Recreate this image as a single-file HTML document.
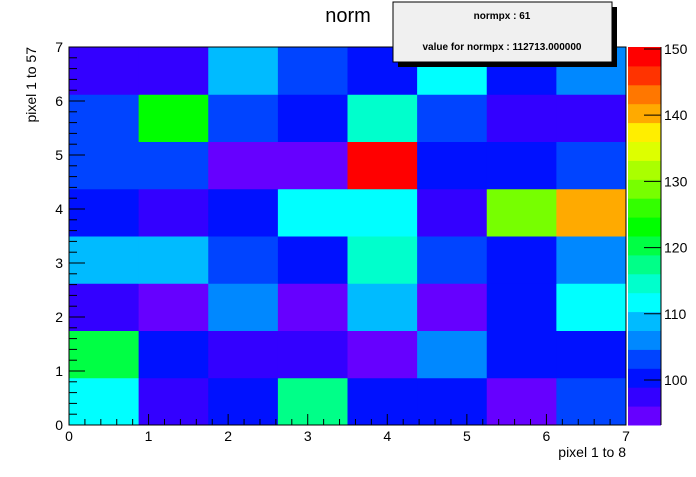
<!DOCTYPE html>
<html><head><meta charset="utf-8"><style>
body{margin:0;background:#fff;width:696px;height:472px;overflow:hidden;font-family:"Liberation Sans",Arial,sans-serif}
</style></head><body>
<svg id="c" width="696" height="472" xmlns="http://www.w3.org/2000/svg" font-family="Liberation Sans, Arial, sans-serif">
<text x="348" y="22" text-anchor="middle" font-size="20">norm</text>
<g id="cells"></g>
<g id="pal"></g>
<g id="axes"></g>
<text x="626" y="457" text-anchor="end" font-size="14">pixel 1 to 8</text>
<text transform="translate(36,47) rotate(-90)" text-anchor="end" font-size="14">pixel 1 to 57</text>
<g>
<rect x="398" y="7" width="219" height="60" fill="#000"/>
<rect x="393" y="2" width="219" height="60" fill="#f0f0f0" stroke="#000" stroke-width="1"/>
<text x="502" y="19" text-anchor="middle" font-size="10" font-weight="bold">normpx : 61</text>
<text x="502" y="50" text-anchor="middle" font-size="10" font-weight="bold">value for normpx : 112713.000000</text>
</g>
</svg>
<script>
// data: rows from bottom (y bin 0) to top (y bin 7), columns x bin 0..7
const xBins=[0,1,2,3,4,5,6,7];
const yBins=[0,1,2,3,4,5,6,7];
const row0=[112,97.5,100.5,117.5,100.5,100.5,95,103];
const row1=[120,100.5,97.5,97.5,95,106,100.5,100.5];
const row2=[97.5,95,106,95,109,95,100.5,112];
const row3=[109,109,103,100.5,114.5,103,100.5,106];
const row4=[100.5,97.5,100.5,112,112,97.5,129,140];
const row5=[103,103,95,95,149,100.5,100.5,103];
const row6=[103,123,103,100.5,114.5,103,97.5,97.5];
const row7=[97.5,97.5,109,103,100.5,112,100.5,106];
const rows=[row0,row1,row2,row3,row4,row5,row6,row7];
const paletteTicks=[100,110,120,130,140,150];
const xTicks=[0,1,2,3,4,5,6,7];
const yTicks=[0,1,2,3,4,5,6,7];
const colors=["#6600ff","#3300ff","#0011ff","#0044ff","#0088ff","#00bbff","#00ffff","#00ffcc","#00ff88","#00ff44","#00ff00","#33ff00","#77ff00","#aaff00","#ddff00","#ffee00","#ffaa00","#ff7700","#ff3300","#ff0000"];
const zMin=93.2,zMax=150.3;
const X0=69,X1=626,Y0=425,Y1=47;
const sx=v=>X0+(v/7)*(X1-X0);
const sy=v=>Y0-(v/7)*(Y0-Y1);
const bw=7/8;
const pz=v=>Y0-(v-zMin)/(zMax-zMin)*(Y0-Y1);
const NS="http://www.w3.org/2000/svg";
function mk(t,a,p){const e=document.createElementNS(NS,t);for(const k in a)e.setAttribute(k,a[k]);p.appendChild(e);return e;}
function col(v){let i=Math.floor((v-zMin)/(zMax-zMin)*colors.length);i=Math.max(0,Math.min(colors.length-1,i));return colors[i];}
const cells=document.getElementById('cells');
rows.forEach((r,j)=>r.forEach((v,i)=>{
 const x=sx(xBins[i]*bw),x2=sx((xBins[i]+1)*bw),y=sy((yBins[j]+1)*bw),y2=sy(yBins[j]*bw);
 const e=mk('rect',{x:x,y:y,width:x2-x+0.5,height:y2-y+0.5,fill:col(v)},cells);
 
 
}));
const pal=document.getElementById('pal');
colors.forEach((c,i)=>{
 const v0=zMin+i*(zMax-zMin)/colors.length,v1=zMin+(i+1)*(zMax-zMin)/colors.length;
 const e=mk('rect',{x:628,y:pz(v1),width:33,height:pz(v0)-pz(v1)+0.5,fill:c},pal);
 
 
});
mk('line',{x1:661,y1:Y1,x2:661,y2:Y0,stroke:'#000'},pal);
paletteTicks.forEach(t=>{
 const y=pz(t);
 mk('line',{x1:644,y1:y,x2:661,y2:y,stroke:'#000'},pal);
 const tx=mk('text',{x:664,y:y+5,'font-size':14},pal);tx.textContent=t;
 
 
});
const ax=document.getElementById('axes');
mk('rect',{x:X0,y:Y1,width:X1-X0,height:Y0-Y1,fill:'none',stroke:'#000'},ax);
xTicks.forEach(t=>{
 const x=sx(t);
 mk('line',{x1:x,y1:Y0,x2:x,y2:Y0-11,stroke:'#000'},ax);
 const tx=mk('text',{x:x,y:441,'text-anchor':'middle','font-size':14},ax);tx.textContent=t;
 
 
 if(t<7)for(let k=1;k<5;k++){const xm=sx(t+k*0.2);mk('line',{x1:xm,y1:Y0,x2:xm,y2:Y0-6,stroke:'#000'},ax);}
});
yTicks.forEach(t=>{
 const y=sy(t);
 mk('line',{x1:X0,y1:y,x2:X0+16,y2:y,stroke:'#000'},ax);
 const tx=mk('text',{x:X0-6,y:y+5,'text-anchor':'end','font-size':14},ax);tx.textContent=t;
 
 
 if(t<7)for(let k=1;k<5;k++){const ym=sy(t+k*0.2);mk('line',{x1:X0,y1:ym,x2:X0+8,y2:ym,stroke:'#000'},ax);}
});
</script>
</body></html>
